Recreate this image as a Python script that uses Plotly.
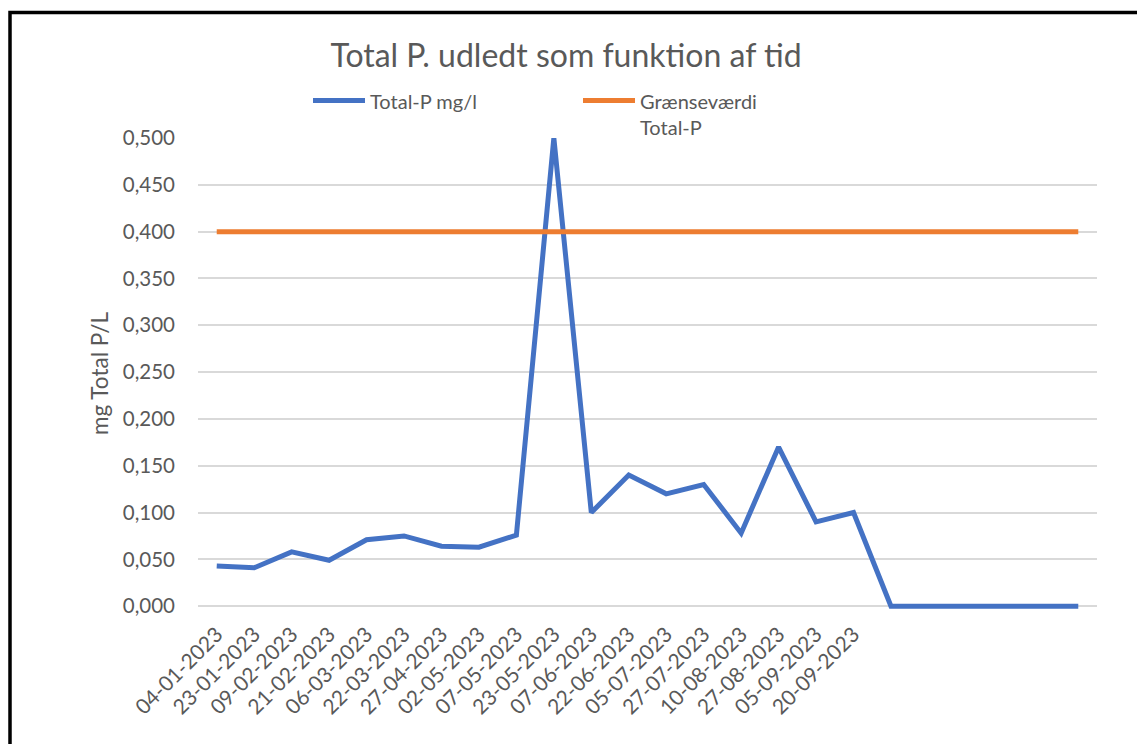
import plotly.graph_objects as go

# Sample dates (x categories); the last six points carry no label
dates = ["04-01-2023", "23-01-2023", "09-02-2023", "21-02-2023", "06-03-2023",
         "22-03-2023", "27-04-2023", "02-05-2023", "07-05-2023", "23-05-2023",
         "07-06-2023", "22-06-2023", "05-07-2023", "27-07-2023", "10-08-2023",
         "27-08-2023", "05-09-2023", "20-09-2023", "", "", "", "", "", ""]

total_p = [0.043, 0.041, 0.058, 0.049, 0.071, 0.075, 0.064, 0.063, 0.076, 0.500,
           0.100, 0.140, 0.120, 0.130, 0.078, 0.170, 0.090, 0.100,
           0.0, 0.0, 0.0, 0.0, 0.0, 0.0]

limit_p = [0.400] * len(dates)

series_names = ["Total-P mg/l", "Grænseværdi<br>Total-P"]
series_colors = ["#4472C4", "#ED7D31"]

x_pos = list(range(len(dates)))

# the page has an 8px body margin, so the figure is 8px smaller than the window
OFF = 8
W, H = 1145 - OFF, 744 - OFF
L, R, T, B = 198 - OFF, 48, 138 - OFF, 135
pw, ph = W - L - R, H - T - B

font = "Lato, 'Open Sans', sans-serif"
txt = "#595959"


def px_x(v):
    # page pixel -> paper x
    return (v - OFF - L) / pw


def px_y(v):
    # page pixel -> paper y
    return (H - B - (v - OFF)) / ph


fig = go.Figure()

for yvals, name, col in zip([total_p, limit_p], series_names, series_colors):
    fig.add_trace(go.Scatter(
        x=x_pos, y=yvals, mode="lines", name=name,
        line=dict(color=col, width=5), showlegend=False,
    ))

# Excel-like legend: long line keys and text
legend_x = [313, 583]
for lx, name, col in zip(legend_x, series_names, series_colors):
    fig.add_shape(type="line", xref="paper", yref="paper",
                  x0=px_x(lx), x1=px_x(lx + 52), y0=px_y(100.5), y1=px_y(100.5),
                  line=dict(color=col, width=5), layer="above")
    fig.add_annotation(xref="paper", yref="paper", x=px_x(lx + 55), y=px_y(87),
                       xanchor="left", yanchor="top", align="left", showarrow=False,
                       text=name, font=dict(size=20, color=txt, family=font))

# chart frame, like the Excel border
fig.add_shape(type="rect", xref="paper", yref="paper",
              x0=px_x(10), x1=px_x(1170), y0=px_y(12.5), y1=px_y(770),
              line=dict(color="black", width=3.5), layer="above")

fig.update_layout(
    width=W, height=H,
    margin=dict(l=L, r=R, t=T, b=B),
    paper_bgcolor="white", plot_bgcolor="white",
    separators=",.",
    showlegend=False,
    font=dict(family=font, color=txt),
    title=dict(text="Total P. udledt som funktion af tid", x=(566 - OFF) / W, xref="container",
               xanchor="center", y=1 - (56 - OFF) / H, yanchor="middle",
               font=dict(size=32, color=txt)),
    xaxis=dict(
        range=[-0.5, len(dates) - 0.5],
        tickmode="array", tickvals=x_pos, ticktext=dates,
        tickangle=-45, tickfont=dict(size=21, color=txt), ticklabelstandoff=8,
        showgrid=False, zeroline=False, showline=False, ticks="",
    ),
    yaxis=dict(
        range=[-0.003, 0.5], tick0=0, dtick=0.05, tickformat=".3f",
        tickfont=dict(size=20.5, color=txt),
        showgrid=True, gridcolor="#d9d9d9", gridwidth=1.5,
        zeroline=False, showline=False, ticks="", ticklabelstandoff=22,
        title=dict(text="mg Total P/L", font=dict(size=22.5, color=txt), standoff=7),
    ),
)

fig.write_html("out.html")
